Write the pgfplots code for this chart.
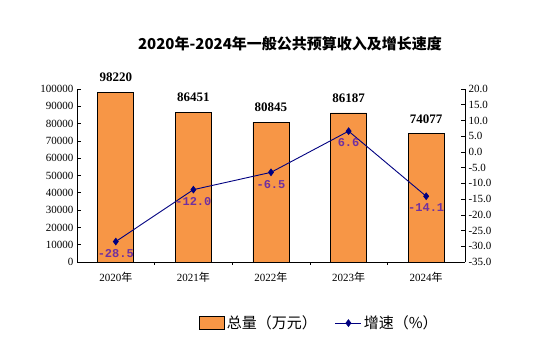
\documentclass[border=0pt]{standalone}
\usepackage{pgfplots}
\pgfplotsset{compat=1.18}
\usepackage{fontspec}
\setmainfont{Liberation Serif}
\newfontfamily\cjk{Noto Sans CJK SC}
\newfontfamily\monof{Liberation Mono}
\definecolor{barfill}{RGB}{247,150,70}
\definecolor{linec}{RGB}{0,0,128}
\definecolor{lblc}{RGB}{112,48,160}
\pgfplotsset{
  mybarleg/.style={legend image code/.code={\draw[##1] (0bp,-6.5bp) rectangle (25bp,6.5bp);}},
  mylineleg/.style={legend image code/.code={\draw[##1, mark=none] (0bp,0bp) -- (26bp,0bp); \draw[##1, only marks] plot coordinates {(13bp,0bp)};}},
}
\begin{document}
\begin{tikzpicture}
\useasboundingbox (0bp,0bp) rectangle (533bp,355bp);
\node[font=\cjk\bfseries\fontsize{15bp}{18bp}\selectfont] at (290bp,311bp) {2020年-2024年一般公共预算收入及增长速度};
\begin{axis}[
  at={(77bp,93bp)}, anchor=south west, scale only axis,
  width=388bp, height=173bp,
  xmin=-0.5, xmax=4.5, ymin=0, ymax=100000,
  axis x line*=bottom, axis y line*=left,
  axis line style={black, line width=0.8pt},
  tick align=inside,
  tick style={black, line width=0.6pt},
  major tick length=4bp,
  xtick={0,1,2,3,4},
  xticklabels={2020{\cjk 年},2021{\cjk 年},2022{\cjk 年},2023{\cjk 年},2024{\cjk 年}},
  major x tick style={draw=none},
  extra x ticks={0.5,1.5,2.5,3.5},
  extra x tick labels={},
  extra x tick style={major x tick style={draw=black}, major tick length=3bp},
  ytick={0,10000,...,100000},
  scaled y ticks=false,
  /pgf/number format/.cd, fixed, precision=0, 1000 sep={}, assume math mode=true, /pgfplots/.cd,
  ticklabel style={font=\fontsize{11bp}{13bp}\selectfont},
  xticklabel style={yshift=-3bp},
  ybar, bar width=0.464,
  nodes near coords,
  every node near coord/.append style={font=\bfseries\fontsize{13bp}{15bp}\selectfont, black, yshift=7bp},
]
\addplot[fill=barfill, draw=black, line width=0.7pt] coordinates {(0,98220) (1,86451) (2,80845) (3,86187) (4,74077)};
\end{axis}
\begin{axis}[
  at={(77bp,93bp)}, anchor=south west, scale only axis,
  width=388bp, height=173bp,
  xmin=-0.5, xmax=4.5, ymin=-35, ymax=20,
  axis x line=none, axis y line*=right,
  axis line style={black, line width=0.8pt},
  tick align=inside,
  tick style={black, line width=0.6pt},
  major tick length=4bp,
  ytick={-35,-30,...,20},
  /pgf/number format/.cd, fixed, fixed zerofill, precision=1, assume math mode=true, /pgfplots/.cd,
  yticklabel style={font=\fontsize{11bp}{13bp}\selectfont},
  legend style={at={(0.625,-0.353)}, anchor=center, draw=none, legend columns=2,
    font=\cjk\fontsize{15bp}{17bp}\selectfont,
    /tikz/every even column/.append style={column sep=16bp}},
]
\addlegendimage{area legend, fill=barfill, draw=black, line width=0.7pt, mybarleg}
\addlegendentry{总量（万元）}
\addplot[color=linec, line width=0.9pt, mark=diamond*, mark size=3.2bp,
  mark options={fill=linec},
  nodes near coords,
  every node near coord/.append style={font=\monof\bfseries\fontsize{12bp}{14bp}\selectfont, lblc, anchor=north, yshift=-4bp},
  mylineleg
] coordinates {(0,-28.5) (1,-12.0) (2,-6.5) (3,6.6) (4,-14.1)};
\addlegendentry{增速（\%）}
\end{axis}
\end{tikzpicture}
\end{document}
